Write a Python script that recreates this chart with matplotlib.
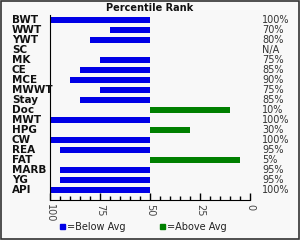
import matplotlib
matplotlib.use("Agg")
import matplotlib.pyplot as plt
from matplotlib.patches import Rectangle

traits = ["BWT", "WWT", "YWT", "SC", "MK", "CE", "MCE", "MWWT", "Stay", "Doc",
          "MWT", "HPG", "CW", "REA", "FAT", "MARB", "YG", "API"]
pct = [100, 70, 80, None, 75, 85, 90, 75, 85, 10,
       100, 30, 100, 95, 5, 95, 95, 100]
pct_labels = ["100%", "70%", "80%", "N/A", "75%", "85%", "90%", "75%", "85%", "10%",
              "100%", "30%", "100%", "95%", "5%", "95%", "95%", "100%"]
major_ticks = [100, 75, 50, 25, 0]
minor_ticks = list(range(0, 101, 5))

BLUE = "#0000e6"
GREEN = "#008000"
BG = "#f8f8f8"

fig = plt.figure(figsize=(3.0, 2.4), dpi=100, facecolor=BG)
ax = fig.add_axes([50/300, 1-200/240, 200/300, 185/240])
ax.set_facecolor(BG)

for i, p in enumerate(pct):
    if p is None:
        continue
    col = BLUE if p >= 50 else GREEN
    ax.barh(i, p - 50, left=50, height=0.6, color=col, edgecolor="none")

ax.set_xlim(100, 0)
ax.set_ylim(17.95, -0.5)
ax.set_yticks([])
ax.spines["top"].set_visible(False)
ax.spines["right"].set_visible(False)
ax.spines["left"].set_color("black")
ax.spines["bottom"].set_color("black")
ax.set_xticks(major_ticks)
ax.set_xticks(minor_ticks, minor=True)
ax.tick_params(axis="x", which="major", direction="in", length=5, width=1, pad=3,
               labelsize=7, labelrotation=-90, colors="black")
ax.tick_params(axis="x", which="minor", direction="in", length=3, width=1)
for lbl in ax.get_xticklabels():
    lbl.set_color("#444444")

for i, name in enumerate(traits):
    y_fig = 1 - (20 + i * 10) / 240
    fig.text(12/300, y_fig, name, ha="left", va="center", fontsize=7.5,
             fontweight="bold", color="#111111")
    fig.text(262/300, y_fig, pct_labels[i], ha="left", va="center", fontsize=7,
             color="#333333")

fig.text(150/300, 1 - 8/240, "Percentile Rank", ha="center", va="center",
         fontsize=7, fontweight="bold", color="#111111")

fig.patches.append(Rectangle((60/300, 1 - 229/240), 5/300, 5/240, transform=fig.transFigure,
                             color=BLUE, figure=fig))
fig.text(67/300, 1 - 227/240, "=Below Avg", ha="left", va="center", fontsize=7, color="#222222")
fig.patches.append(Rectangle((160/300, 1 - 229/240), 5/300, 5/240, transform=fig.transFigure,
                             color=GREEN, figure=fig))
fig.text(167/300, 1 - 227/240, "=Above Avg", ha="left", va="center", fontsize=7, color="#222222")

fig.patches.append(Rectangle((0.002, 0.003), 0.995, 0.994, transform=fig.transFigure,
                             fill=False, edgecolor="#333333", linewidth=1.2, figure=fig))

fig.savefig("out.png", dpi=100, facecolor=BG)
